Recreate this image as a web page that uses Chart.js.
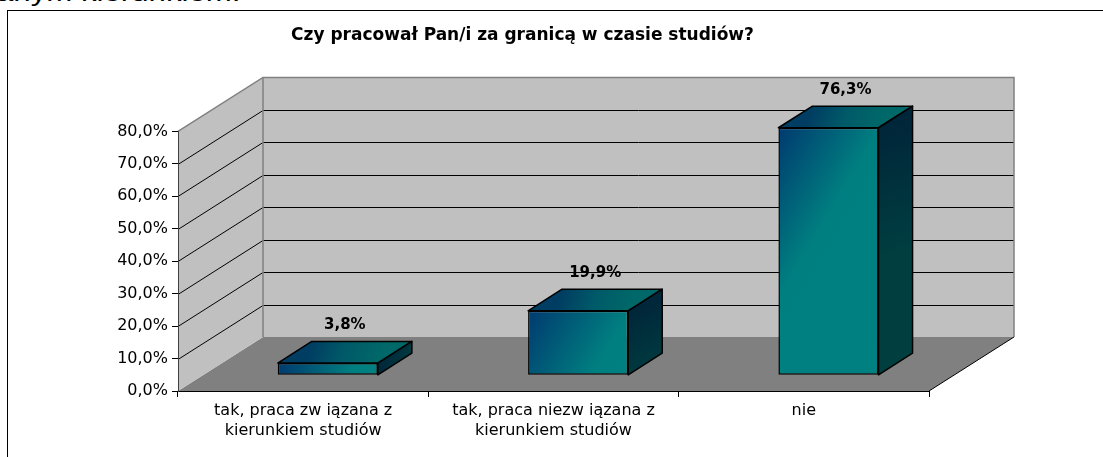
<!DOCTYPE html>
<html>
<head>
<meta charset="utf-8">
<script src="https://cdn.jsdelivr.net/npm/chart.js@4.4.0/dist/chart.umd.min.js"></script>
<style>
  html, body { margin: 0; padding: 0; background: #fff; overflow: hidden; }
  body { width: 1103px; height: 457px; position: relative; }
  #doc { position: absolute; left: -4px; top: -19px; font: 24px/24px "Liberation Sans", Arial, sans-serif; transform: scaleX(1.3); transform-origin: left top; white-space: nowrap; color: #000; }
  #frame { position: absolute; left: 7px; top: 10px; width: 1200px; height: 600px; border: 1px solid #000; }
  #chart { position: absolute; left: 0; top: 0; }
</style>
</head>
<body>
<div id="doc">anym kierunkiem.</div>
<div id="frame"></div>
<canvas id="chart" width="1103" height="457"></canvas>
<script>
// dane wykresu
const categories = [
    ['tak, praca zw iązana z', 'kierunkiem studiów'],
    ['tak, praca niezw iązana z', 'kierunkiem studiów'],
    'nie'
];
const shares = [3.8, 19.9, 76.3];
const yMin = 0;
const yMax = 80;
const yStep = 10;
const chartTitle = 'Czy pracował Pan/i za granicą w czasie studiów?';

// głębia "3D" w pikselach i położenie słupków w tej głębi
const DEPTH = { x: 85, y: -54 };
const BAR_FRONT = 0.29;
const BAR_DEPTH = 0.40;
const BAR_PCT = 0.4;

Chart.defaults.font.family = '"DejaVu Sans", sans-serif';

function fmt(v) {
    return Number(v).toFixed(1).replace('.', ',') + '%';
}

// gradient przedniej ściany słupka
function frontFill(c) {
    const chart = c.chart;
    const x = chart.scales.x, y = chart.scales.y;
    if (!chart.chartArea || !x || !y) return '#008080';
    const w = (x.getPixelForValue(1) - x.getPixelForValue(0)) * BAR_PCT;
    const left = x.getPixelForValue(c.dataIndex) - w / 2;
    const top = y.getPixelForValue(shares[c.dataIndex]);
    const h = y.getPixelForValue(0) - top;
    const g = chart.ctx.createLinearGradient(left, top, left + w, top + Math.min(h, w * 0.6));
    g.addColorStop(0, '#003a70');
    g.addColorStop(0.4, '#005f78');
    g.addColorStop(0.75, '#007f80');
    g.addColorStop(1, '#008080');
    return g;
}

// ściany, podłoga i linie siatki
const walls3d = {
    id: 'walls3d',
    beforeDraw(chart) {
        const ctx = chart.ctx, a = chart.chartArea, y = chart.scales.y;
        const dx = DEPTH.x, dy = DEPTH.y;
        ctx.save();
        ctx.fillStyle = '#808080';
        ctx.beginPath();
        ctx.moveTo(a.left, a.bottom);
        ctx.lineTo(a.right, a.bottom);
        ctx.lineTo(a.right + dx, a.bottom + dy);
        ctx.lineTo(a.left + dx, a.bottom + dy);
        ctx.closePath();
        ctx.fill();

        ctx.fillStyle = '#c0c0c0';
        ctx.beginPath();
        ctx.moveTo(a.left, a.bottom);
        ctx.lineTo(a.left + dx, a.bottom + dy);
        ctx.lineTo(a.left + dx, a.top + dy);
        ctx.lineTo(a.left, a.top);
        ctx.closePath();
        ctx.fill();
        ctx.fillRect(a.left + dx, a.top + dy, a.right - a.left, a.bottom - a.top);

        ctx.strokeStyle = '#000';
        ctx.lineWidth = 1;
        y.ticks.forEach(t => {
            if (t.value <= yMin || t.value >= yMax) return;
            const py = Math.round(y.getPixelForValue(t.value)) + 0.5;
            ctx.beginPath();
            ctx.moveTo(a.left, py);
            ctx.lineTo(a.left + dx, py + dy);
            ctx.lineTo(a.right + dx, py + dy);
            ctx.stroke();
        });

        ctx.strokeStyle = '#808080';
        ctx.lineWidth = 1.5;
        ctx.beginPath();
        ctx.moveTo(a.left, a.top);
        ctx.lineTo(a.left + dx, a.top + dy);
        ctx.lineTo(a.right + dx, a.top + dy);
        ctx.lineTo(a.right + dx, a.bottom + dy);
        ctx.stroke();
        ctx.beginPath();
        ctx.moveTo(a.left + dx, a.top + dy);
        ctx.lineTo(a.left + dx, a.bottom + dy);
        ctx.stroke();

        ctx.strokeStyle = '#000';
        ctx.lineWidth = 1;
        ctx.beginPath();
        ctx.moveTo(a.right, a.bottom);
        ctx.lineTo(a.right + dx, a.bottom + dy);
        ctx.stroke();
        ctx.restore();
    }
};

// boki i wierzch słupków + etykiety wartości
const bars3d = {
    id: 'bars3d',
    beforeDatasetsDraw(chart) {
        chart.ctx.save();
        chart.ctx.translate(DEPTH.x * BAR_FRONT, DEPTH.y * BAR_FRONT);
    },
    afterDatasetsDraw(chart) {
        const ctx = chart.ctx;
        const bx = DEPTH.x * BAR_DEPTH, by = DEPTH.y * BAR_DEPTH;
        const bars = chart.getDatasetMeta(0).data;
        ctx.lineWidth = 1.5;
        ctx.strokeStyle = '#000';
        ctx.lineJoin = 'round';
        bars.forEach(bar => {
            const l = bar.x - bar.width / 2, r = bar.x + bar.width / 2;
            const t = bar.y, b = bar.base;

            let g = ctx.createLinearGradient(l + bx, t + by, r, t);
            g.addColorStop(0, '#003d62');
            g.addColorStop(0.5, '#005a68');
            g.addColorStop(1, '#006868');
            ctx.fillStyle = g;
            ctx.beginPath();
            ctx.moveTo(l, t);
            ctx.lineTo(l + bx, t + by);
            ctx.lineTo(r + bx, t + by);
            ctx.lineTo(r, t);
            ctx.closePath();
            ctx.fill();
            ctx.stroke();

            g = ctx.createLinearGradient(r, t, r + bx, t + Math.min(b - t, 120));
            g.addColorStop(0, '#00263a');
            g.addColorStop(1, '#003e40');
            ctx.fillStyle = g;
            ctx.beginPath();
            ctx.moveTo(r, t);
            ctx.lineTo(r + bx, t + by);
            ctx.lineTo(r + bx, b + by);
            ctx.lineTo(r, b);
            ctx.closePath();
            ctx.fill();
            ctx.stroke();
        });
        ctx.restore();

        ctx.save();
        ctx.font = 'bold 15px "DejaVu Sans", sans-serif';
        ctx.fillStyle = '#000';
        ctx.textAlign = 'center';
        ctx.textBaseline = 'middle';
        bars.forEach((bar, i) => {
            const lx = bar.x + DEPTH.x * BAR_FRONT + bx / 2;
            const ly = bar.y + DEPTH.y * BAR_FRONT + by - 16;
            ctx.fillText(fmt(shares[i]), lx, ly);
        });
        ctx.restore();
    }
};

new Chart(document.getElementById('chart'), {
    type: 'bar',
    data: {
        labels: categories,
        datasets: [{
            data: shares,
            backgroundColor: frontFill,
            borderColor: '#000',
            borderWidth: 1.5,
            borderSkipped: false,
            barPercentage: BAR_PCT,
            categoryPercentage: 1
        }]
    },
    options: {
        responsive: false,
        animation: false,
        devicePixelRatio: 1,
        layout: { padding: { left: 116, right: 174, top: 0, bottom: 0 } },
        plugins: {
            legend: { display: false },
            tooltip: { enabled: false },
            title: {
                display: true,
                text: chartTitle,
                color: '#000',
                font: { size: 17, weight: 'bold' },
                padding: { top: 25, bottom: 86 }
            }
        },
        scales: {
            x: {
                offset: true,
                grid: { offset: true, drawOnChartArea: false, tickLength: 6, color: '#000' },
                border: { color: '#000' },
                ticks: { color: '#000', font: { size: 16, lineHeight: 1.3 }, padding: 3, maxRotation: 0, autoSkip: false },
                afterFit(s) { s.height = 66; }
            },
            y: {
                min: yMin,
                max: yMax,
                ticks: { stepSize: yStep, callback: fmt, color: '#000', font: { size: 16 }, padding: 4 },
                grid: { drawOnChartArea: false, tickLength: 6, color: '#000' },
                border: { color: '#404040' },
                afterFit(s) { s.width = 62; }
            }
        }
    },
    plugins: [walls3d, bars3d]
});
</script>
</body>
</html>
